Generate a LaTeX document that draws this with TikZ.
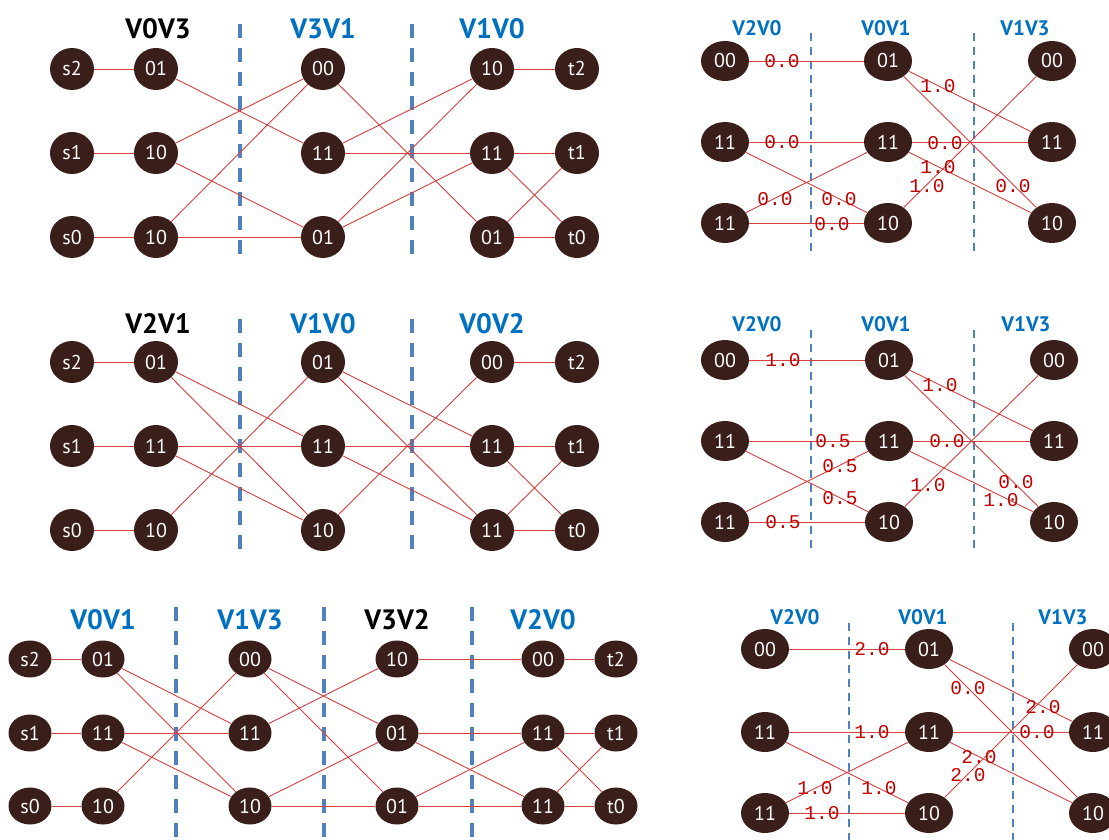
\documentclass[tikz,border=0pt]{standalone}
\usepackage{fontspec}
\usetikzlibrary{shapes.geometric}
\newfontfamily\nodefont{PT Sans}
\newfontfamily\titlefont{PT Sans}
\newfontfamily\wtfont{Liberation Mono}
\definecolor{nodebrown}{RGB}{58,30,26}
\definecolor{edgered}{RGB}{214,64,64}
\definecolor{labelred}{RGB}{192,0,0}
\definecolor{titleblue}{RGB}{0,112,192}
\definecolor{divblue}{RGB}{79,129,189}
\tikzset{
  lnode/.style={ellipse, fill=nodebrown, text=white, inner sep=0pt,
    minimum width=44pt, minimum height=42pt, font=\nodefont\fontsize{20}{20}\selectfont},
  cnode/.style={lnode, minimum width=43pt, minimum height=37pt},
  rnode/.style={lnode, minimum width=48pt, minimum height=40pt},
  edge/.style={draw=edgered, line width=0.9pt},
  bigtitle/.style={font=\titlefont\bfseries\fontsize{28}{28}\selectfont, inner sep=0pt},
  smalltitle/.style={font=\titlefont\bfseries\fontsize{21}{21}\selectfont, inner sep=0pt},
  bigdiv/.style={draw=divblue, line width=3.5pt, dash pattern=on 14pt off 10pt},
  smalldiv/.style={draw=divblue, line width=2.2pt, dash pattern=on 8pt off 6pt},
  wt/.style={text=labelred, font=\wtfont\fontsize{19.5}{19.5}\selectfont, inner sep=0pt},
}
\begin{document}
\begin{tikzpicture}[x=1pt,y=-1pt]
\clip (0,0) rectangle (1109,840);
\fill[white] (0,0) rectangle (1109,840);

% ---------- left, top: V0V3 / V3V1 / V1V0 ----------
\node[bigtitle] (A-h1) at (158,29) {V0V3};
\node[bigtitle,text=titleblue] (A-h2) at (323,29) {V3V1};
\node[bigtitle,text=titleblue] (A-h3) at (492,29) {V1V0};
\draw[bigdiv] (240,24) -- (240,258);
\draw[bigdiv] (412,24) -- (412,258);
\node[lnode] (A-s2) at (72,69) {s2};
\node[lnode] (A-s1) at (72,153) {s1};
\node[lnode] (A-s0) at (72,237) {s0};
\node[lnode] (A-a0) at (156,69) {01};
\node[lnode] (A-a1) at (156,153) {10};
\node[lnode] (A-a2) at (156,237) {10};
\node[lnode] (A-b0) at (323,69) {00};
\node[lnode] (A-b1) at (323,153) {11};
\node[lnode] (A-b2) at (323,237) {01};
\node[lnode] (A-c0) at (492,69) {10};
\node[lnode] (A-c1) at (492,153) {11};
\node[lnode] (A-c2) at (492,237) {01};
\node[lnode] (A-t2) at (577,69) {t2};
\node[lnode] (A-t1) at (577,153) {t1};
\node[lnode] (A-t0) at (577,237) {t0};
\foreach \u/\v in {s2/a0,s1/a1,s0/a2,a0/b1,a1/b0,a1/b2,a2/b0,a2/b2,
  b0/c2,b1/c0,b1/c1,b2/c0,b2/c1,c0/t2,c1/t1,c1/t0,c2/t1,c2/t0}
  \draw[edge] (A-\u) -- (A-\v);

% ---------- left, middle: V2V1 / V1V0 / V0V2 ----------
\node[bigtitle] (B-h1) at (158,324) {V2V1};
\node[bigtitle,text=titleblue] (B-h2) at (323,324) {V1V0};
\node[bigtitle,text=titleblue] (B-h3) at (492,324) {V0V2};
\draw[bigdiv] (240,319) -- (240,553);
\draw[bigdiv] (412,319) -- (412,553);
\node[lnode] (B-s2) at (72,362) {s2};
\node[lnode] (B-s1) at (72,446) {s1};
\node[lnode] (B-s0) at (72,530) {s0};
\node[lnode] (B-a0) at (156,362) {01};
\node[lnode] (B-a1) at (156,446) {11};
\node[lnode] (B-a2) at (156,530) {10};
\node[lnode] (B-b0) at (323,362) {01};
\node[lnode] (B-b1) at (323,446) {11};
\node[lnode] (B-b2) at (323,530) {10};
\node[lnode] (B-c0) at (492,362) {00};
\node[lnode] (B-c1) at (492,446) {11};
\node[lnode] (B-c2) at (492,530) {11};
\node[lnode] (B-t2) at (577,362) {t2};
\node[lnode] (B-t1) at (577,446) {t1};
\node[lnode] (B-t0) at (577,530) {t0};
\foreach \u/\v in {s2/a0,s1/a1,s0/a2,a0/b1,a0/b2,a1/b1,a1/b2,a2/b0,
  b0/c1,b0/c2,b1/c1,b1/c2,b2/c0,c0/t2,c1/t1,c1/t0,c2/t1,c2/t0}
  \draw[edge] (B-\u) -- (B-\v);

% ---------- left, bottom: V0V1 / V1V3 / V3V2 / V2V0 ----------
\node[bigtitle,text=titleblue] (C-h1) at (103,620) {V0V1};
\node[bigtitle,text=titleblue] (C-h2) at (250,620) {V1V3};
\node[bigtitle] (C-h3) at (397,620) {V3V2};
\node[bigtitle,text=titleblue] (C-h4) at (543,620) {V2V0};
\draw[bigdiv] (176,607) -- (176,845);
\draw[bigdiv] (324,607) -- (324,845);
\draw[bigdiv] (472,607) -- (472,845);
\node[cnode] (C-s2) at (30,659) {s2};
\node[cnode] (C-s1) at (30,733) {s1};
\node[cnode] (C-s0) at (30,806) {s0};
\node[cnode] (C-a0) at (103,659) {01};
\node[cnode] (C-a1) at (103,733) {11};
\node[cnode] (C-a2) at (103,806) {10};
\node[cnode] (C-b0) at (250,659) {00};
\node[cnode] (C-b1) at (250,733) {11};
\node[cnode] (C-b2) at (250,806) {10};
\node[cnode] (C-c0) at (397,659) {10};
\node[cnode] (C-c1) at (397,733) {01};
\node[cnode] (C-c2) at (397,806) {01};
\node[cnode] (C-d0) at (543,659) {00};
\node[cnode] (C-d1) at (543,733) {11};
\node[cnode] (C-d2) at (543,806) {11};
\node[cnode] (C-t2) at (616,659) {t2};
\node[cnode] (C-t1) at (616,733) {t1};
\node[cnode] (C-t0) at (616,806) {t0};
\foreach \u/\v in {s2/a0,s1/a1,s0/a2,a0/b1,a0/b2,a1/b1,a1/b2,a2/b0,
  b0/c1,b0/c2,b1/c0,b2/c1,b2/c2,c0/d0,c1/d1,c1/d2,c2/d1,c2/d2,
  d0/t2,d1/t1,d1/t0,d2/t1,d2/t0}
  \draw[edge] (C-\u) -- (C-\v);

% ---------- right, top: weighted V2V0 / V0V1 / V1V3 ----------
\node[smalltitle,text=titleblue] (D-h1) at (757,28) {V2V0};
\node[smalltitle,text=titleblue] (D-h2) at (886,28) {V0V1};
\node[smalltitle,text=titleblue] (D-h3) at (1025,28) {V1V3};
\draw[smalldiv] (811,33) -- (811,254);
\draw[smalldiv] (974,33) -- (974,254);
\node[rnode] (D-l0) at (725,61) {00};
\node[rnode] (D-l1) at (725,142) {11};
\node[rnode] (D-l2) at (725,223) {11};
\node[rnode] (D-m0) at (888,61) {01};
\node[rnode] (D-m1) at (888,142) {11};
\node[rnode] (D-m2) at (888,223) {10};
\node[rnode] (D-r0) at (1052,61) {00};
\node[rnode] (D-r1) at (1052,142) {11};
\node[rnode] (D-r2) at (1052,223) {10};
\foreach \u/\v in {l0/m0,l1/m1,l1/m2,l2/m1,l2/m2,m0/r1,m0/r2,m1/r1,m1/r2,m2/r0}
  \draw[edge] (D-\u) -- (D-\v);
\node[wt] (D-w1) at (782,61) {0.0};
\node[wt] (D-w2) at (782,142) {0.0};
\node[wt] (D-w3) at (839,199) {0.0};
\node[wt] (D-w4) at (775,199) {0.0};
\node[wt] (D-w5) at (832,224) {0.0};
\node[wt] (D-w6) at (938,86) {1.0};
\node[wt] (D-w7) at (1013,186) {0.0};
\node[wt] (D-w8) at (945,143) {0.0};
\node[wt] (D-w9) at (938,167) {1.0};
\node[wt] (D-w10) at (927,186) {1.0};

% ---------- right, middle ----------
\node[smalltitle,text=titleblue] (E-h1) at (757,324) {V2V0};
\node[smalltitle,text=titleblue] (E-h2) at (886,324) {V0V1};
\node[smalltitle,text=titleblue] (E-h3) at (1026,324) {V1V3};
\draw[smalldiv] (811,330) -- (811,550);
\draw[smalldiv] (974,330) -- (974,550);
\node[rnode] (E-l0) at (725,360) {00};
\node[rnode] (E-l1) at (725,441) {11};
\node[rnode] (E-l2) at (725,522) {11};
\node[rnode] (E-m0) at (889,360) {01};
\node[rnode] (E-m1) at (889,441) {11};
\node[rnode] (E-m2) at (889,522) {10};
\node[rnode] (E-r0) at (1054,360) {00};
\node[rnode] (E-r1) at (1054,441) {11};
\node[rnode] (E-r2) at (1054,522) {10};
\foreach \u/\v in {l0/m0,l1/m1,l1/m2,l2/m1,l2/m2,m0/r1,m0/r2,m1/r1,m1/r2,m2/r0}
  \draw[edge] (E-\u) -- (E-\v);
\node[wt] (E-w1) at (783,360) {1.0};
\node[wt] (E-w2) at (833,441) {0.5};
\node[wt] (E-w3) at (840,466) {0.5};
\node[wt] (E-w4) at (840,498) {0.5};
\node[wt] (E-w5) at (783,522) {0.5};
\node[wt] (E-w6) at (940,385) {1.0};
\node[wt] (E-w7) at (947,441) {0.0};
\node[wt] (E-w8) at (928,485) {1.0};
\node[wt] (E-w9) at (1016,482) {0.0};
\node[wt] (E-w10) at (1001,500) {1.0};

% ---------- right, bottom ----------
\node[smalltitle,text=titleblue] (F-h1) at (795,617) {V2V0};
\node[smalltitle,text=titleblue] (F-h2) at (923,617) {V0V1};
\node[smalltitle,text=titleblue] (F-h3) at (1063,617) {V1V3};
\draw[smalldiv] (849,623) -- (849,845);
\draw[smalldiv] (1013,623) -- (1013,845);
\node[rnode] (F-l0) at (765,649) {00};
\node[rnode] (F-l1) at (765,732) {11};
\node[rnode] (F-l2) at (765,813) {11};
\node[rnode] (F-m0) at (929,649) {01};
\node[rnode] (F-m1) at (929,732) {11};
\node[rnode] (F-m2) at (929,813) {10};
\node[rnode] (F-r0) at (1093,649) {00};
\node[rnode] (F-r1) at (1093,732) {11};
\node[rnode] (F-r2) at (1093,813) {10};
\foreach \u/\v in {l0/m0,l1/m1,l1/m2,l2/m1,l2/m2,m0/r1,m0/r2,m1/r1,m1/r2,m2/r0}
  \draw[edge] (F-\u) -- (F-\v);
\node[wt] (F-w1) at (872,649) {2.0};
\node[wt] (F-w2) at (872,732) {1.0};
\node[wt] (F-w3) at (815,788) {1.0};
\node[wt] (F-w4) at (879,788) {1.0};
\node[wt] (F-w5) at (822,813) {1.0};
\node[wt] (F-w6) at (1043,707) {2.0};
\node[wt] (F-w7) at (968,688) {0.0};
\node[wt] (F-w8) at (1037,732) {0.0};
\node[wt] (F-w9) at (979,757) {2.0};
\node[wt] (F-w10) at (968,775) {2.0};
\end{tikzpicture}
\end{document}
